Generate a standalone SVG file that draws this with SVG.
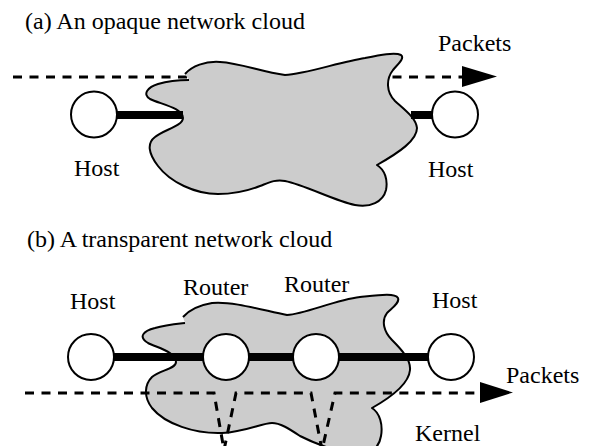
<svg xmlns="http://www.w3.org/2000/svg" width="594" height="446" viewBox="0 0 594 446">
<style>
text{font-family:"Liberation Serif","Times New Roman",serif;font-size:24px;fill:#000}
.cloud{fill:#cccccc;stroke:#000;stroke-width:2;stroke-linejoin:round}
.node{fill:#fff;stroke:#000;stroke-width:2}
.link{stroke:#000;stroke-width:8;fill:none}
.flow{stroke:#000;stroke-width:3;fill:none;stroke-dasharray:9 7.5}
.head{fill:#000}
</style>
<rect width="594" height="446" fill="#fff"/>
<g id="title-a"><text x="25" y="29">(a) An opaque network cloud</text></g>
<g id="connectors-a">
<path class="flow" d="M13,77 H462"/>
<polygon class="head" points="462,66 497,76.5 462,87"/>
</g>
<g id="cloud-a">
<path class="cloud" d="M185,74 C192,66 205,61 220,62 C240,63 262,72 285,75 C305,74 340,62 365,58 C380,55 395,52 401,55 C405,58 398,64 393,70 C386,79 386,92 395,101 C405,110 416,118 417,128 C417,140 400,152 377,165 C385,170 388,180 386,190 C383,202 370,208 355,205 C335,201 305,185 285,181 C275,179 268,183 260,186 C245,192 232,194 218,194 C195,194 170,182 158,166 C148,153 147,143 155,137 C163,130 183,126 183,118 C183,108 160,104 150,99 C142,94 148,87 158,84 C168,81 180,80 189,80"/>
</g>
<g id="links-a">
<line class="link" x1="116" y1="115" x2="183" y2="115"/>
<line class="link" x1="411" y1="115" x2="434" y2="115"/>
</g>
<g id="host-a-left"><circle class="node" cx="94" cy="114.5" r="23"/><text x="74" y="176">Host</text></g>
<g id="host-a-right"><circle class="node" cx="455" cy="114.5" r="23"/><text x="428" y="177">Host</text></g>
<g id="label-a-packets"><text x="438" y="51">Packets</text></g>

<g id="title-b"><text x="27" y="247">(b) A transparent network cloud</text></g>
<g id="cloud-b">
<path class="cloud" d="M183,317 C190,309 200,305 212,303 C232,301 262,310 287,315 C305,314 335,300 360,297 C380,295 395,293 398,298 C400,303 392,308 387,313 C381,321 384,332 392,340 C402,350 411,360 410,370 C409,382 395,395 372,408 C380,413 383,425 381,436 C379,448 372,454 355,453 C340,452 320,446 300,436 C288,428 280,423 272,423 C262,423 245,432 222,433 C195,434 165,424 152,408 C143,396 145,384 152,377 C160,370 176,369 176,362 C176,352 158,348 148,343 C138,337 143,331 155,328 C165,325 176,324 185,323"/>
</g>
<g id="connectors-b">
<line class="link" x1="112" y1="357" x2="205" y2="357"/>
<line class="link" x1="247" y1="357" x2="295" y2="357"/>
<line class="link" x1="337" y1="357" x2="430" y2="357"/>
<path class="flow" d="M25,393 H214 L224,450 L236,393 H311 L322,450 L335,393 H480"/>
<polygon class="head" points="480,382 513,392.5 480,403"/>
</g>
<g id="host-b-left"><circle class="node" cx="91" cy="357" r="23"/><text x="70" y="309">Host</text></g>
<g id="router-1"><circle class="node" cx="226" cy="357" r="23"/><text x="183" y="295">Router</text></g>
<g id="router-2"><circle class="node" cx="316" cy="357" r="23"/><text x="284" y="292">Router</text></g>
<g id="host-b-right"><circle class="node" cx="451" cy="357" r="23"/><text x="432" y="308">Host</text></g>
<g id="label-b-packets"><text x="506" y="383">Packets</text></g>
<g id="label-kernel"><text x="415" y="441">Kernel</text></g>
</svg>
